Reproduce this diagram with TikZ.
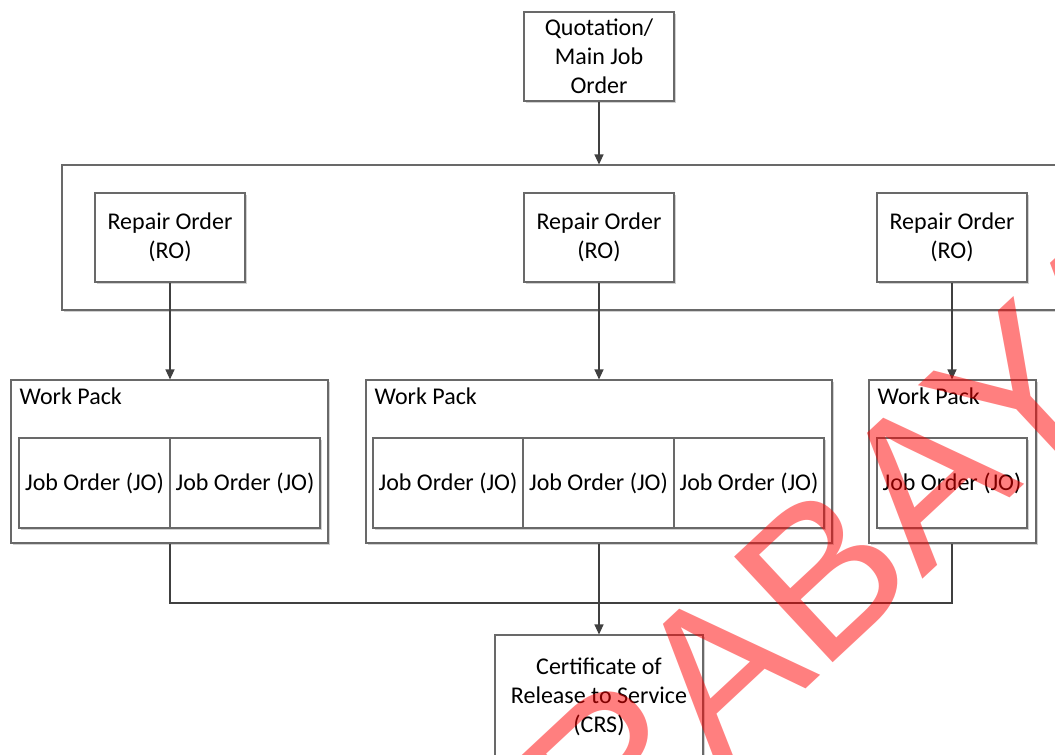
\documentclass[tikz,border=0pt]{standalone}
\usepackage{fontspec}
\setmainfont{Carlito}
\newfontfamily\markfont{Liberation Sans}
\usetikzlibrary{arrows.meta,shadows,calc}

\definecolor{boxline}{RGB}{105,105,105}
\definecolor{connline}{RGB}{64,64,64}

\tikzset{
  box/.style={draw=boxline, line width=1.1pt, fill=white, rectangle, inner sep=0pt,
              align=center, font=\fontsize{24}{29}\selectfont,
              drop shadow={shadow xshift=2pt, shadow yshift=-2pt, opacity=0.18, fill=black}},
  packlabel/.style={anchor=base west, inner sep=0pt, font=\fontsize{24}{29}\selectfont},
  conn/.style={draw=connline, line width=1.2pt},
  arr/.style={conn, -{Triangle[length=10pt,width=9pt]}},
  stamp/.style={text=red, text opacity=0.5, inner sep=0pt, anchor=base west,
                font=\markfont\fontsize{210}{210}\selectfont}
}

\begin{document}
\begin{tikzpicture}[x=1pt, y=-1pt]
  \useasboundingbox (0,0) rectangle (1055,755);
  \clip (0,0) rectangle (1055,755);

  % top order
  \node[box, minimum width=150pt, minimum height=89pt] (quote) at (599,56.5)
    {Quotation/\\Main Job\\Order};

  % container of repair orders (runs off the right edge)
  \node[box, minimum width=1018pt, minimum height=145pt] (cont) at (571,237.5) {};
  \node[box, minimum width=150pt, minimum height=89pt] (ro1) at (170,237.5) {Repair Order\\(RO)};
  \node[box, minimum width=150pt, minimum height=89pt] (ro2) at (599,237.5) {Repair Order\\(RO)};
  \node[box, minimum width=150pt, minimum height=89pt] (ro3) at (952,237.5) {Repair Order\\(RO)};

  % work packs
  \node[box, minimum width=317pt, minimum height=163pt] (wp1) at (169.5,461.5) {};
  \node[box, minimum width=466pt, minimum height=163pt] (wp2) at (599,461.5) {};
  \node[box, minimum width=167pt, minimum height=163pt] (wp3) at (952.5,461.5) {};
  \node[packlabel] (wp1l) at ($(wp1.north west)+(9,25)$) {Work Pack};
  \node[packlabel] (wp2l) at ($(wp2.north west)+(9,25)$) {Work Pack};
  \node[packlabel] (wp3l) at ($(wp3.north west)+(9,25)$) {Work Pack};

  % job orders
  \node[box, minimum width=151pt, minimum height=90pt] (jo11) at (94.5,483) {Job Order (JO)};
  \node[box, minimum width=150pt, minimum height=90pt] (jo12) at (245,483) {Job Order (JO)};
  \node[box, minimum width=150pt, minimum height=90pt] (jo21) at (448,483) {Job Order (JO)};
  \node[box, minimum width=151pt, minimum height=90pt] (jo22) at (598.5,483) {Job Order (JO)};
  \node[box, minimum width=150pt, minimum height=90pt] (jo23) at (749,483) {Job Order (JO)};
  \node[box, minimum width=150pt, minimum height=90pt] (jo31) at (952,483) {Job Order (JO)};

  % certificate
  \node[box, minimum width=208pt, minimum height=124pt] (crs) at (599,697)
    {Certificate of\\Release to Service\\(CRS)};

  % connectors
  \draw[arr] (quote.south) -- (quote.south |- cont.north);
  \draw[arr] (ro1.south) -- (ro1.south |- wp1.north);
  \draw[arr] (ro2.south) -- (ro2.south |- wp2.north);
  \draw[arr] (ro3.south) -- (ro3.south |- wp3.north);
  \coordinate (merge) at (599,603);
  \draw[conn] (ro1.south |- wp1.south) |- (merge) -| (ro3.south |- wp3.south);
  \draw[arr] (wp2.south) -- (crs.north);

  % watermark
  \node[stamp, rotate=43] (mark) at (607,874) {RABAYA};
\end{tikzpicture}
\end{document}
